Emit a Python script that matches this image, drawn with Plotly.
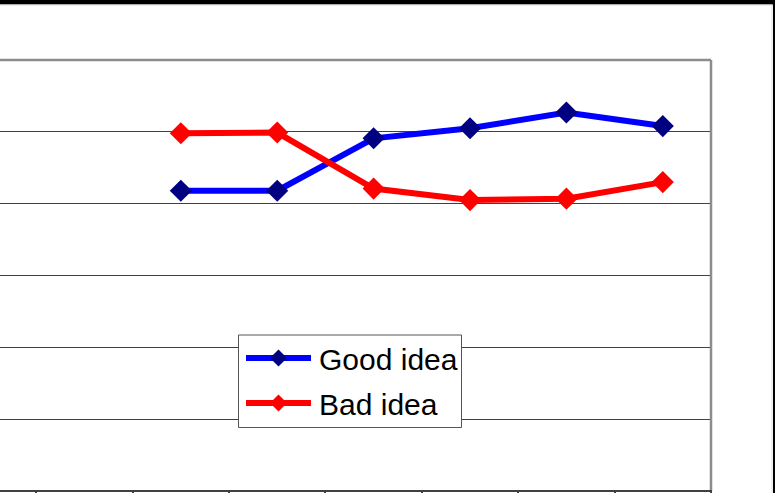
import plotly.graph_objects as go

# ---- data ----
category_index = [2, 3, 4, 5, 6, 7]          # visible categories (labels cropped off)
n_categories = 8
good_idea = [4.18, 4.18, 4.91, 5.05, 5.27, 5.08]
bad_idea = [4.98, 4.99, 4.21, 4.05, 4.07, 4.30]
series_names = ["Good idea", "Bad idea"]

W, H = 775, 493
PL, PR, PT, PB = 0, 711, 60, 491   # plot area pixel box


def xp(px):
    return (px - PL) / (PR - PL)


def yp(py):
    return (PB - py) / (PB - PT)


fig = go.Figure()
fig.add_trace(go.Scatter(
    x=category_index, y=good_idea, mode="lines+markers", name=series_names[0],
    line=dict(color="#0000FF", width=6),
    marker=dict(symbol="diamond", size=17, color="#000080", line=dict(width=0)),
    showlegend=False))
fig.add_trace(go.Scatter(
    x=category_index, y=bad_idea, mode="lines+markers", name=series_names[1],
    line=dict(color="#FF0000", width=6),
    marker=dict(symbol="diamond", size=17, color="#FF0000", line=dict(width=0)),
    showlegend=False))

shapes = []
# plot-area border (gray) top and right, dark bottom axis line
shapes.append(dict(type="line", xref="paper", yref="paper", x0=0, x1=1, y0=1, y1=1,
                   line=dict(color="#8c8c8c", width=2.5), layer="above"))
shapes.append(dict(type="line", xref="paper", yref="paper", x0=1, x1=1, y0=0, y1=1,
                   line=dict(color="#8c8c8c", width=2.5), layer="above"))
shapes.append(dict(type="line", xref="paper", yref="paper", x0=0, x1=xp(PR + 1), y0=0, y1=0,
                   line=dict(color="#404040", width=2), layer="above"))
# black frame at top and right of the image
shapes.append(dict(type="rect", xref="paper", yref="paper", x0=xp(-5), x1=xp(W + 5),
                   y0=yp(4.5), y1=yp(-5), fillcolor="black", line=dict(width=0)))
shapes.append(dict(type="line", xref="paper", yref="paper", x0=xp(0), x1=xp(772),
                   y0=yp(5), y1=yp(5), line=dict(color="#dddddd", width=1)))
shapes.append(dict(type="rect", xref="paper", yref="paper", x0=xp(773), x1=xp(W + 5),
                   y0=yp(H + 5), y1=yp(-5), fillcolor="black", line=dict(width=0)))
shapes.append(dict(type="line", xref="paper", yref="paper", x0=xp(772), x1=xp(772),
                   y0=yp(5), y1=yp(H), line=dict(color="#dddddd", width=1)))

# custom legend
lx0, lx1, ly0, ly1 = 238.5, 461.5, 335, 427.5
shapes.append(dict(type="rect", xref="paper", yref="paper", x0=xp(lx0), x1=xp(lx1),
                   y0=yp(ly1), y1=yp(ly0), fillcolor="white",
                   line=dict(color="#555555", width=1), layer="above"))
annotations = []
legend_rows = [(358, "#0000FF", "#000080"), (403, "#FF0000", "#FF0000")]
for (cy, lc, mc), name in zip(legend_rows, series_names):
    shapes.append(dict(type="line", xref="paper", yref="paper", x0=xp(246), x1=xp(311),
                       y0=yp(cy), y1=yp(cy), line=dict(color=lc, width=6), layer="above"))
    cx, r = 278.5, 8.5
    path = "M {} {} L {} {} L {} {} L {} {} Z".format(
        xp(cx - r), yp(cy), xp(cx), yp(cy - r), xp(cx + r), yp(cy), xp(cx), yp(cy + r))
    shapes.append(dict(type="path", xref="paper", yref="paper", path=path,
                       fillcolor=mc, line=dict(width=0), layer="above"))
    annotations.append(dict(xref="paper", yref="paper", x=xp(317), y=yp(cy + 1),
                            xanchor="left", yanchor="middle", showarrow=False,
                            text=name, font=dict(size=30, color="black",
                                                 family="Liberation Sans, Arial")))

fig.update_layout(
    width=W, height=H,
    margin=dict(l=PL, r=W - PR, t=PT, b=H - PB, pad=0, autoexpand=False),
    paper_bgcolor="white", plot_bgcolor="white",
    shapes=shapes, annotations=annotations,
    xaxis=dict(range=[0.124, n_categories - 0.5], showgrid=False, zeroline=False,
               automargin=False, showline=False,
               tickmode="array", tickvals=[i + 0.5 for i in range(n_categories)],
               ticks="outside", ticklen=6, tickwidth=1.5, tickcolor="#404040",
               showticklabels=False),
    yaxis=dict(range=[0, 6], dtick=1, showgrid=True, gridcolor="#404040", gridwidth=1,
               automargin=False,
               zeroline=False, showticklabels=False, showline=False),
    showlegend=False,
)

fig.write_html("out.html")
